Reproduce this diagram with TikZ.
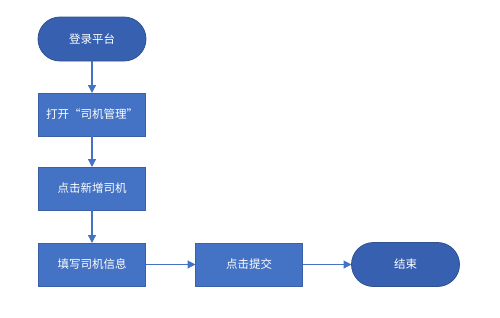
\documentclass[tikz,border=0pt]{standalone}
\usepackage{fontspec}
\newfontfamily\cjk{Noto Sans CJK SC}
\usetikzlibrary{arrows.meta,positioning,shapes.misc}
\definecolor{boxblue}{HTML}{4472C4}
\definecolor{pillblue}{HTML}{3760B0}
\definecolor{edgeblue}{HTML}{2F528F}

\begin{document}
\begin{tikzpicture}[x=1pt,y=-1pt,>={Triangle[length=8pt,width=8pt]},node distance=32pt and 50pt,
  stepbox/.style={draw=boxblue!85!black,line width=0.5pt,fill=boxblue,text=white,minimum width=107pt,minimum height=43pt,inner sep=0pt,outer sep=0pt,font=\cjk\fontsize{11.5}{13}\selectfont},
  terminal/.style={rounded rectangle,draw=edgeblue,line width=0.8pt,fill=pillblue,text=white,minimum width=108pt,minimum height=44pt,inner sep=0pt,outer sep=0pt,font=\cjk\fontsize{11.5}{13}\selectfont},
  flow/.style={->,draw=boxblue,line width=1.2pt}]
\useasboundingbox (0,0) rectangle (500,317);
\node[terminal] (login) at (92,39) {登录平台};
\node[stepbox,below=of login] (open) {打开“司机管理”};
\node[stepbox,below=31pt of open] (add) {点击新增司机};
\node[stepbox,below=33pt of add] (fill) {填写司机信息};
\node[stepbox,right=of fill] (submit) {点击提交};
\node[terminal,right=49pt of submit] (finish) {结束};
\draw[flow] (login)--(open);
\draw[flow] (open)--(add);
\draw[flow] (add)--(fill);
\draw[flow] (fill)--(submit);
\draw[flow] (submit)--(finish);
\end{tikzpicture}
\end{document}
